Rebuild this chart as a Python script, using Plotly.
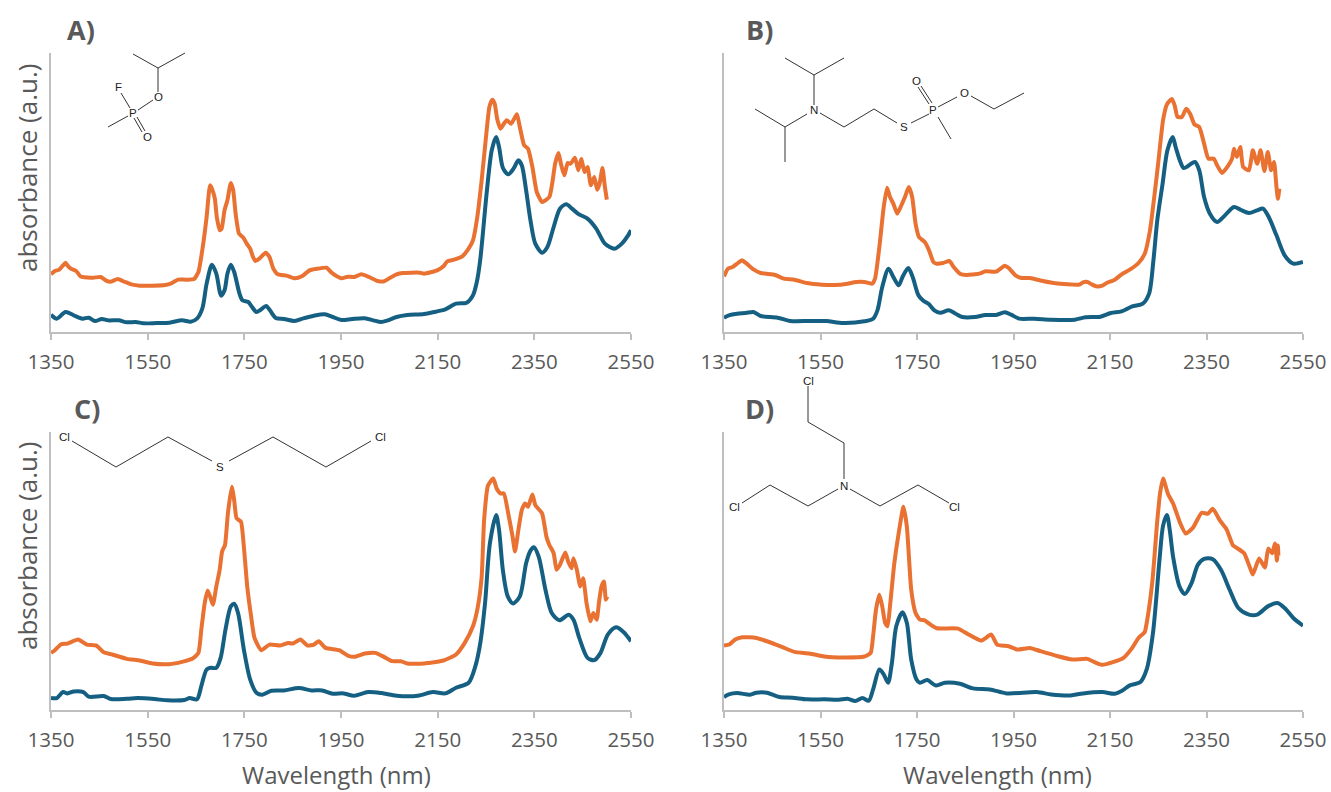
import plotly.graph_objects as go

TICKS = [1350, 1550, 1750, 1950, 2150, 2350, 2550]
PANELS = ["A)", "B)", "C)", "D)"]
Y_TITLE = "absorbance (a.u.)"
X_TITLE = "Wavelength (nm)"

A_OR_X = [1350,1358,1367,1375,1380,1384,1391,1402,1411,1419,1437,1453,1463,1474,1488,1503,1516,1534,1560,1586,1599,1613,1630,1646,1655,1664,1672,1679,1683,1689,1693,1699,1703,1709,1715,1722,1727,1732,1739,1748,1755,1762,1768,1773,1781,1794,1802,1810,1819,1837,1854,1869,1885,1898,1920,1929,1938,1951,1964,1977,1992,2008,2026,2039,2052,2065,2078,2113,2122,2149,2162,2170,2184,2201,2214,2223,2232,2241,2250,2257,2263,2268,2273,2280,2287,2293,2302,2314,2320,2329,2337,2346,2355,2366,2381,2388,2393,2400,2405,2412,2419,2425,2434,2441,2447,2454,2460,2467,2474,2480,2485,2491,2496,2500]
A_OR_Y = [173,183,187,200,208,200,190,183,167,164,163,165,155,151,159,150,143,139,139,141,146,157,157,159,180,255,345,440,430,400,345,305,310,365,395,447,425,355,295,283,265,250,225,213,220,238,225,190,173,169,161,167,185,189,193,180,170,161,166,165,173,165,153,152,163,173,177,178,175,185,197,212,217,227,250,275,345,455,585,675,697,685,640,610,625,635,625,653,615,560,550,495,420,390,405,455,505,537,505,470,507,505,523,485,519,480,495,440,465,427,445,492,435,397]
A_BL_X = [1350,1362,1380,1397,1415,1428,1441,1455,1468,1490,1507,1525,1542,1569,1595,1621,1639,1652,1663,1672,1683,1692,1702,1709,1715,1722,1729,1740,1746,1758,1766,1775,1784,1795,1803,1815,1832,1854,1872,1894,1916,1933,1951,1973,1999,2017,2033,2047,2065,2087,2122,2149,2166,2188,2210,2223,2231,2238,2252,2262,2271,2277,2285,2296,2307,2317,2324,2333,2342,2352,2366,2377,2390,2403,2416,2428,2440,2460,2478,2496,2516,2531,2544,2550]
A_BL_Y = [52,40,60,50,40,43,33,39,35,35,29,30,26,27,28,35,31,40,70,145,202,175,109,125,175,202,180,115,95,90,75,60,67,78,65,42,39,33,41,49,53,45,36,39,41,35,30,35,45,51,54,62,68,85,88,110,150,216,426,546,585,555,492,473,490,515,500,425,335,265,238,255,315,370,383,370,355,340,310,265,250,265,290,305]

B_OR_X = [1350,1358,1368,1379,1387,1397,1412,1426,1456,1474,1496,1522,1553,1580,1606,1624,1641,1657,1663,1672,1681,1688,1694,1701,1709,1716,1725,1733,1740,1747,1754,1766,1775,1784,1791,1804,1817,1826,1839,1852,1879,1892,1914,1932,1940,1954,1967,1984,2011,2037,2086,2094,2103,2112,2121,2134,2143,2160,2174,2191,2209,2222,2233,2249,2260,2268,2278,2284,2290,2299,2308,2316,2325,2335,2345,2354,2365,2372,2382,2394,2403,2407,2413,2420,2426,2438,2446,2455,2462,2470,2477,2484,2490,2495,2498,2501]
B_OR_Y = [167,190,195,207,215,205,187,177,171,160,157,147,142,141,145,150,150,145,160,255,375,433,405,385,355,375,405,435,405,325,285,270,245,210,205,207,213,195,175,171,175,182,181,199,192,170,162,162,153,146,142,149,150,143,137,139,147,157,173,187,207,235,306,495,636,683,699,680,645,645,670,655,623,615,565,520,520,500,477,497,520,550,525,555,495,485,545,505,545,483,540,485,510,435,400,430]
B_BL_X = [1350,1360,1377,1395,1411,1426,1461,1487,1527,1562,1597,1641,1659,1668,1678,1691,1701,1712,1720,1732,1741,1753,1762,1775,1786,1798,1816,1830,1844,1870,1892,1914,1932,1945,1962,1993,2028,2077,2099,2130,2152,2174,2196,2218,2231,2240,2248,2259,2269,2280,2286,2296,2303,2326,2335,2345,2357,2372,2385,2407,2420,2438,2455,2467,2479,2495,2512,2530,2550]
B_BL_Y = [43,50,55,57,60,48,43,33,33,33,27,32,40,65,135,190,165,140,165,192,165,110,95,83,65,58,65,55,45,45,51,51,59,52,40,40,37,37,44,46,57,62,77,85,115,215,335,445,545,585,555,510,492,510,485,405,355,330,345,375,367,357,365,370,345,290,230,205,210]

C_OR_X = [1350,1358,1371,1384,1406,1424,1444,1459,1477,1507,1534,1560,1595,1621,1643,1655,1661,1668,1674,1679,1685,1692,1699,1704,1710,1716,1724,1729,1734,1743,1749,1756,1764,1771,1785,1802,1824,1841,1850,1866,1881,1894,1904,1918,1946,1964,1977,1999,2021,2039,2056,2074,2087,2122,2162,2188,2206,2223,2232,2241,2246,2254,2265,2272,2280,2287,2296,2305,2310,2317,2324,2331,2337,2346,2352,2366,2375,2381,2390,2396,2403,2414,2420,2427,2431,2438,2445,2451,2458,2466,2472,2479,2484,2489,2494,2498,2501]
C_OR_Y = [172,180,198,200,212,197,194,174,167,154,149,140,138,145,155,172,242,322,360,342,317,372,422,477,497,592,672,632,577,567,492,372,282,217,180,197,194,202,200,212,194,197,207,187,180,164,160,170,172,160,147,147,140,140,149,167,202,252,302,400,570,675,697,667,652,652,592,522,477,542,602,622,612,649,617,592,522,497,472,422,437,474,447,427,457,422,372,397,322,267,292,272,327,372,387,332,342]
C_BL_X = [1350,1362,1375,1384,1397,1417,1428,1459,1474,1507,1529,1564,1591,1626,1637,1652,1661,1672,1680,1692,1701,1711,1722,1729,1737,1749,1762,1775,1787,1806,1832,1863,1889,1911,1933,1955,1977,2006,2034,2065,2109,2140,2166,2188,2214,2228,2238,2248,2258,2271,2277,2285,2295,2306,2320,2333,2342,2349,2359,2373,2386,2402,2421,2431,2443,2460,2474,2487,2502,2519,2535,2550]
C_BL_Y = [36,36,54,50,56,54,40,42,33,34,36,33,29,30,36,32,72,122,127,127,157,242,312,320,292,182,92,52,46,58,59,66,59,59,49,50,43,54,51,43,43,54,50,67,82,132,200,321,501,587,542,420,342,321,342,442,480,490,462,362,292,270,287,272,217,157,150,172,227,249,234,207]

D_OR_X = [1350,1361,1373,1388,1417,1439,1470,1496,1527,1558,1597,1641,1654,1659,1665,1672,1678,1684,1689,1694,1703,1712,1722,1729,1738,1747,1756,1766,1778,1791,1835,1857,1883,1904,1916,1940,1958,1984,2006,2042,2072,2103,2121,2134,2156,2178,2196,2209,2222,2227,2238,2248,2254,2260,2270,2281,2295,2307,2322,2340,2353,2363,2378,2392,2405,2415,2428,2440,2446,2459,2471,2478,2486,2492,2496,2498,2499]
D_OR_Y = [194,197,212,219,217,207,190,175,170,161,158,161,172,222,302,347,312,262,252,312,442,532,612,552,362,292,272,270,257,246,245,227,209,227,197,192,182,187,177,162,152,154,142,136,144,157,187,217,235,270,390,570,655,697,651,621,564,531,549,594,591,606,570,543,495,486,472,429,408,456,429,486,472,501,450,495,465]
D_BL_X = [1350,1360,1377,1404,1417,1439,1465,1492,1522,1558,1588,1606,1622,1637,1650,1659,1672,1681,1690,1698,1707,1720,1729,1738,1749,1756,1771,1789,1808,1839,1866,1901,1936,1998,2028,2068,2094,2134,2160,2174,2191,2213,2226,2239,2253,2260,2268,2274,2281,2294,2305,2319,2332,2345,2363,2380,2398,2416,2438,2455,2477,2497,2512,2530,2550]
D_BL_Y = [39,47,51,46,52,52,39,37,32,32,31,34,27,36,28,62,122,107,82,142,252,294,262,152,92,82,90,74,82,79,65,62,50,54,47,44,50,54,49,57,74,84,122,231,459,555,587,540,459,372,349,382,437,455,454,422,362,307,287,287,312,322,307,277,254]

# chemical structures (bonds and atom labels), decorative line art
W, H = 1331, 792
BONDS = [
    (133,54,158,68),(158,68,185,53),(158,68,158,92),(138,110,153,100),(121,93,130,108),
    (108,127,128,116),(134,118,142,132),(137,117,145,131),
    (785,58,814,75),(814,75,844,58),(814,75,814,105),(755,109,785,127),(785,127,807,114),(785,127,785,162),
    (820,113,844,127),(844,127,874,109),(874,109,897,123),(911,123,929,114),(929,104,918,87),(932,103,921,86),
    (938,107,957,97),(971,96,994,109),(994,109,1024,93),(938,117,951,139),
    (72,441,116,467),(116,467,168,437),(168,437,212,461),(229,461,273,437),(273,437,326,467),(326,467,371,441),
    (808,386,808,422),(808,422,844,443),(844,443,844,479),(838,489,808,506),(808,506,770,485),(770,485,742,503),
    (850,489,880,506),(880,506,918,485),(918,485,949,503),
]
ATOMS = [
    ("F",118,87),("O",158,97),("P",133,113),("O",147,137),
    ("N",814,110),("S",904,127),("P",933,110),("O",916,81),("O",964,93),
    ("Cl",64,437),("S",220,467),("Cl",380,437),
    ("Cl",808,381),("N",844,486),("Cl",735,507),("Cl",955,507),
]
LABEL_POS = [(81,30),(759,30),(87,408),(759,408)]
BLUE, ORANGE, GREY, AXIS = "#156082", "#E97132", "#595959", "#BFBFBF"
FONT = "Open Sans"

DOMAINS = [((51,631),(53,332)),((724,1303),(53,332)),((51,631),(432,710)),((724,1303),(432,710))]
SERIES = [(A_OR_X,A_OR_Y,A_BL_X,A_BL_Y),(B_OR_X,B_OR_Y,B_BL_X,B_BL_Y),
          (C_OR_X,C_OR_Y,C_BL_X,C_BL_Y),(D_OR_X,D_OR_Y,D_BL_X,D_BL_Y)]

fig = go.Figure()
layout = dict(width=W, height=H, autosize=False, margin=dict(l=0,r=0,t=0,b=0),
              paper_bgcolor="white", plot_bgcolor="white", showlegend=False,
              font=dict(family=FONT, color=GREY))
annotations, shapes = [], []
def note(text, x, y, size, color=GREY, family=FONT, angle=0):
    annotations.append(dict(text=text, x=x/W, y=1-y/H, xref="paper", yref="paper", xanchor="center",
                            yanchor="middle", showarrow=False, textangle=angle,
                            font=dict(size=size, color=color, family=family)))
for i, ((x0,x1),(y0,y1)) in enumerate(DOMAINS):
    n = "" if i == 0 else str(i+1)
    ox, oy, bx, by = SERIES[i]
    fig.add_trace(go.Scatter(x=bx, y=by, xaxis="x"+n, yaxis="y"+n, mode="lines", cliponaxis=False,
                             line=dict(color=BLUE, width=4, shape="spline", smoothing=0.8)))
    fig.add_trace(go.Scatter(x=ox, y=oy, xaxis="x"+n, yaxis="y"+n, mode="lines", cliponaxis=False,
                             line=dict(color=ORANGE, width=4, shape="spline", smoothing=0.5)))
    layout["xaxis"+n] = dict(domain=[x0/W,x1/W], range=[1350,2550], tickvals=TICKS, ticks="outside",
                             ticklen=6, tickwidth=1.5, tickcolor=AXIS, showline=True, linecolor=AXIS,
                             linewidth=2, showgrid=False, zeroline=False, automargin=False,
                             ticklabelstandoff=4,
                             tickfont=dict(size=20.5, color=GREY, family=FONT), anchor="y"+n)
    layout["yaxis"+n] = dict(domain=[1-y1/H,1-y0/H], range=[0,837], showticklabels=False, ticks="",
                             showline=True, linecolor=AXIS, linewidth=2, showgrid=False,
                             zeroline=False, automargin=False, anchor="x"+n)
    lx, ly = LABEL_POS[i]
    note(f"<b>{PANELS[i]}</b>", lx, ly, 27)
for x, y in [(27,168),(27,546)]:
    note(Y_TITLE, x, y, 26, angle=-90)
for x, y in [(336,774),(997,774)]:
    note(X_TITLE, x, y, 24)
for a, x, y in ATOMS:
    note(a, x, y, 11.5, color="#222222", family="Liberation Sans")
for xa, ya, xb, yb in BONDS:
    shapes.append(dict(type="line", xref="paper", yref="paper", x0=xa/W, y0=1-ya/H, x1=xb/W, y1=1-yb/H,
                       line=dict(color="#333333", width=1)))
layout["annotations"] = annotations
layout["shapes"] = shapes
fig.update_layout(**layout)
fig.write_html("out.html", config=dict(displayModeBar=False), post_script="document.body.style.margin='0';")
